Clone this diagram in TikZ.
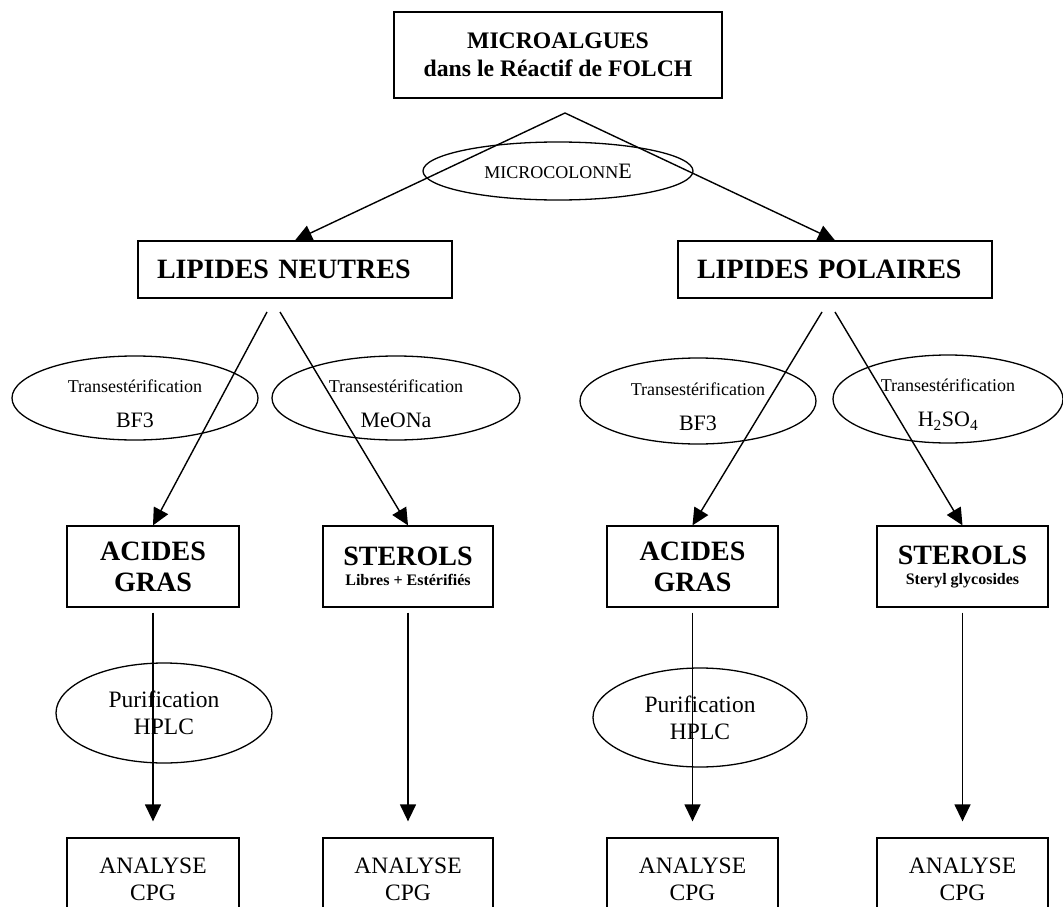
\documentclass[tikz,border=0pt]{standalone}
\usepackage{fontspec}
\setmainfont{Liberation Serif}
\usetikzlibrary{shapes.geometric,arrows.meta}

\begin{document}
\begin{tikzpicture}[
    x=1pt, y=-1pt,
    box/.style={
        draw,
        line width=1.3pt,
        inner sep=0pt,
        align=center
    },
    bubble/.style={
        draw,
        ellipse,
        line width=1.3pt,
        inner sep=0pt,
        align=center
    },
    arrow/.style={
        -{Triangle[length=17pt,width=16pt]},
        line width=1.4pt
    },
    bigbold/.style={font=\bfseries\fontsize{28}{31}\selectfont},
    plain/.style={font=\fontsize{23.5}{27}\selectfont},
    reagent/.style={font=\fontsize{18}{33}\selectfont}
]
    \useasboundingbox (0,0) rectangle (1063,907);
    \clip (0,0) rectangle (1063,907);

    % ---------------------------------------------------------
    % TOP: SAMPLE AND SEPARATION
    % ---------------------------------------------------------
    \node[box, minimum width=328pt, minimum height=86pt,
          font=\bfseries\fontsize{23.7}{28}\selectfont] (algues) at (558,55)
          {MICROALGUES\\dans le Réactif de FOLCH};
    \coordinate (split) at (565,113);
    \node[bubble, minimum width=270pt, minimum height=58pt,
          font=\fontsize{18}{20}\selectfont] (colonne) at (558,171)
          {MICROCOLONN{\fontsize{22}{24}\selectfont E}};

    % ---------------------------------------------------------
    % LIPID CLASSES
    % ---------------------------------------------------------
    \node[box, bigbold, minimum width=314pt, minimum height=57pt,
          text width=276pt, inner xsep=19pt, align=left] (neutres) at (295,269.5)
          {LIPIDES NEUTRES};
    \node[box, bigbold, minimum width=314pt, minimum height=57pt,
          text width=276pt, inner xsep=19pt, align=left] (polaires) at (835,269.5)
          {LIPIDES POLAIRES};

    % ---------------------------------------------------------
    % TRANSESTERIFICATION STEPS
    % ---------------------------------------------------------
    \node[bubble, reagent, minimum width=246pt, minimum height=84pt] (bf3a) at (135,398)
          {\rule{0pt}{24pt}Transestérification\\[2pt]{\fontsize{22}{24}\selectfont BF3}};
    \node[bubble, reagent, minimum width=248pt, minimum height=84pt] (meona) at (396,398)
          {\rule{0pt}{24pt}Transestérification\\[2pt]{\fontsize{22}{24}\selectfont MeONa}};
    \node[bubble, reagent, minimum width=236pt, minimum height=86pt] (bf3b) at (698,401)
          {\rule{0pt}{24pt}Transestérification\\[2pt]{\fontsize{22}{24}\selectfont BF3}};
    \node[bubble, reagent, minimum width=230pt, minimum height=88pt] (acide) at (948,399)
          {\rule{0pt}{24pt}Transestérification\\[2pt]{\fontsize{22}{24}\selectfont H\textsubscript{2}SO\textsubscript{4}}};

    % ---------------------------------------------------------
    % PRODUCTS
    % ---------------------------------------------------------
    \node[box, bigbold, minimum width=172pt, minimum height=81pt] (acides1) at (153,566.5)
          {ACIDES\\GRAS};
    \node[box, minimum width=170pt, minimum height=81pt,
          font=\bfseries\fontsize{28}{20}\selectfont] (sterols1) at (408,566.5)
          {STEROLS\\{\fontsize{16}{18}\selectfont Libres + Estérifiés}};
    \node[box, bigbold, minimum width=171pt, minimum height=81pt] (acides2) at (692.5,566.5)
          {ACIDES\\GRAS};
    \node[box, minimum width=171pt, minimum height=81pt,
          font=\bfseries\fontsize{28}{20}\selectfont] (sterols2) at (962.5,566.5)
          {STEROLS\\{\fontsize{16}{18}\selectfont Steryl glycosides}};

    % HPLC clean-up of the fatty acids
    \node[bubble, plain, minimum width=216pt, minimum height=100pt] (hplc1) at (164,713)
          {Purification\\HPLC};
    \node[bubble, plain, minimum width=214pt, minimum height=99pt] (hplc2) at (700,717.5)
          {Purification\\HPLC};

    % ---------------------------------------------------------
    % GC ANALYSIS
    % ---------------------------------------------------------
    \node[box, plain, minimum width=172pt, minimum height=82pt] (cpg1) at (153,879) {ANALYSE\\CPG};
    \node[box, plain, minimum width=170pt, minimum height=82pt] (cpg2) at (408,879) {ANALYSE\\CPG};
    \node[box, plain, minimum width=171pt, minimum height=82pt] (cpg3) at (692.5,879) {ANALYSE\\CPG};
    \node[box, plain, minimum width=171pt, minimum height=82pt] (cpg4) at (962.5,879) {ANALYSE\\CPG};

    % ---------------------------------------------------------
    % ARROWS
    % ---------------------------------------------------------
    \draw[arrow] (split) -- (neutres.north);
    \draw[arrow] (split) -- (polaires.north);

    \coordinate (neutres-l) at (267,312);
    \coordinate (neutres-r) at (280,312);
    \coordinate (polaires-l) at (822,312);
    \coordinate (polaires-r) at (835,312);

    \draw[arrow] (neutres-l) -- (acides1.north);
    \draw[arrow] (neutres-r) -- (sterols1.north);
    \draw[arrow] (polaires-l) -- (acides2.north);
    \draw[arrow] (polaires-r) -- (sterols2.north);

    \draw[arrow, shorten <=5pt, shorten >=16pt] (acides1.south) -- (cpg1.north);
    \draw[arrow, shorten <=5pt, shorten >=16pt] (sterols1.south) -- (cpg2.north);
    \draw[arrow, shorten <=5pt, shorten >=16pt] (acides2.south) -- (cpg3.north);
    \draw[arrow, shorten <=5pt, shorten >=16pt] (sterols2.south) -- (cpg4.north);

\end{tikzpicture}
\end{document}
